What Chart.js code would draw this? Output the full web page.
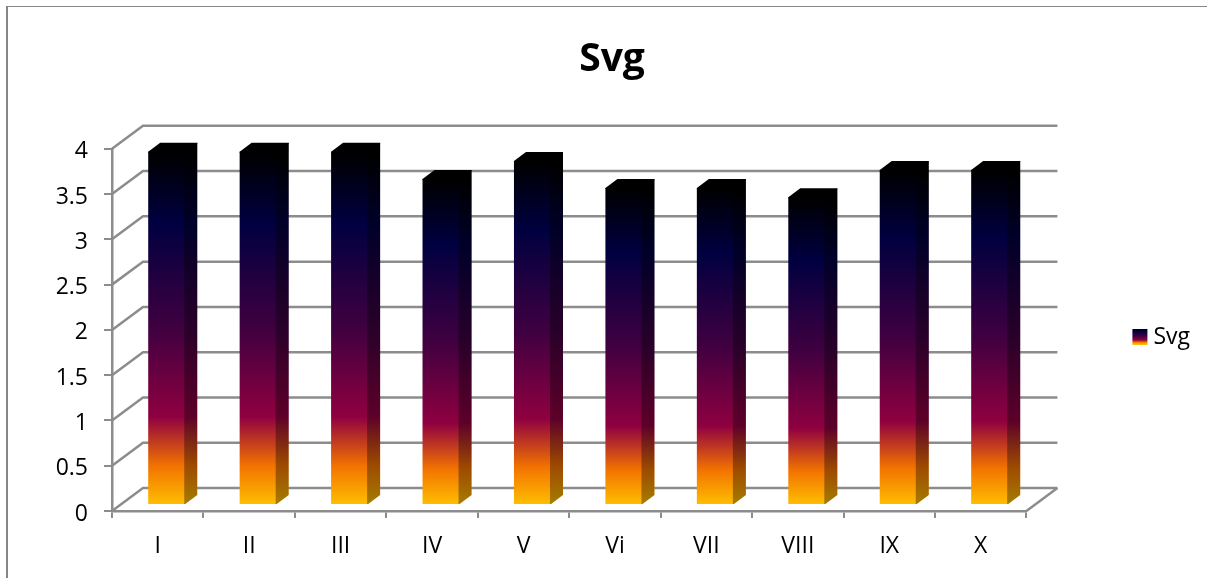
<!DOCTYPE html>
<html>
<head>
<meta charset="utf-8">
<style>
  html, body { margin: 0; background: #fff; overflow: hidden; }
  #frame { position: absolute; left: 6px; top: 6px; width: 1212px; height: 662px; box-sizing: border-box; border: 2px solid #868686; border-right: 0; border-bottom: 0; border-top-width: 1.5px; pointer-events: none; }
  #bars { position: absolute; left: 6px; top: 6px; }
</style>
</head>
<body>
<canvas id="bars" width="1212" height="662"></canvas>
<div id="frame"></div>
<script src="https://cdn.jsdelivr.net/npm/chart.js@4"></script>
<script>
const categories = ["I", "II", "III", "IV", "V", "Vi", "VII", "VIII", "IX", "X"];
const svgValues = [3.9, 3.9, 3.9, 3.6, 3.8, 3.5, 3.5, 3.4, 3.7, 3.7];
const seriesName = "Svg";

const fontName = "'Open Sans'";
const gridColor = "#8c8c8c";

// office "late sunset" preset
const sunsetStops = [
  [0, "#000000"],
  [0.2, "#000040"],
  [0.5, "#400040"],
  [0.75, "#8f0040"],
  [0.89, "#f27300"],
  [1, "#ffbf00"]
];

// fake depth of the 3d box, wall and bars
const wallX = 31, wallY = -23;
const barShiftX = 9, barShiftY = -6;
const depthX = 12, depthY = -9;

const sunset = (ctx, top, bottom) => {
  const g = ctx.createLinearGradient(0, top, 0, bottom);
  sunsetStops.forEach(s => g.addColorStop(s[0], s[1]));
  return g;
};

const fakeDepth = {
  id: "fakeDepth",
  beforeDatasetsDraw(chart) {
    const { ctx, scales: { x, y } } = chart;
    ctx.save();
    ctx.strokeStyle = gridColor;
    ctx.lineWidth = 2.5;
    y.ticks.forEach(t => {
      const py = y.getPixelForValue(t.value);
      ctx.beginPath();
      ctx.moveTo(x.left, py);
      ctx.lineTo(x.left + wallX, py + wallY);
      ctx.lineTo(x.right + wallX, py + wallY);
      ctx.stroke();
    });
    const py0 = y.getPixelForValue(0);
    ctx.beginPath();
    ctx.moveTo(x.right, py0);
    ctx.lineTo(x.right + wallX, py0 + wallY);
    ctx.stroke();
    ctx.restore();
    // front faces get moved back onto the floor
    ctx.save();
    ctx.translate(barShiftX, barShiftY);
  },
  afterDatasetsDraw(chart) {
    const { ctx } = chart;
    ctx.restore();
    ctx.save();
    ctx.translate(barShiftX, barShiftY);
    chart.getDatasetMeta(0).data.forEach(bar => {
      const r = bar.x + bar.width / 2;
      const l = bar.x - bar.width / 2;
      // side, overlaps the front a bit so no white seam shows
      ctx.beginPath();
      ctx.moveTo(r - 1, bar.y);
      ctx.lineTo(r + depthX, bar.y + depthY);
      ctx.lineTo(r + depthX, bar.base + depthY);
      ctx.lineTo(r, bar.base);
      ctx.lineTo(r - 1, bar.base);
      ctx.closePath();
      ctx.fillStyle = sunset(ctx, bar.y, bar.base);
      ctx.fill();
      ctx.fillStyle = "rgba(0,0,0,0.35)";
      ctx.fill();
      // top
      ctx.beginPath();
      ctx.moveTo(l, bar.y + 1);
      ctx.lineTo(l, bar.y);
      ctx.lineTo(l + depthX, bar.y + depthY);
      ctx.lineTo(r + depthX, bar.y + depthY);
      ctx.lineTo(r + depthX, bar.y + depthY + 1);
      ctx.lineTo(r, bar.y + 1);
      ctx.closePath();
      ctx.fillStyle = "#000";
      ctx.fill();
    });
    ctx.restore();
  }
};

const canvas = document.getElementById("bars");

new Chart(canvas, {
  type: "bar",
  data: {
    labels: categories,
    datasets: [{
      label: seriesName,
      data: svgValues,
      categoryPercentage: 1,
      barPercentage: 0.405,
      clip: false,
      backgroundColor: c => {
        const y = c.chart.scales.y;
        return sunset(c.chart.ctx, y.getPixelForValue(c.raw === undefined ? 4 : c.raw), y.getPixelForValue(0));
      }
    }]
  },
  plugins: [fakeDepth],
  options: {
    responsive: false,
    animation: false,
    layout: { padding: { left: 18, right: 18, top: 0, bottom: 0 } },
    plugins: {
      tooltip: { enabled: false },
      title: {
        display: true,
        text: seriesName,
        color: "#000",
        font: { family: fontName, size: 39, weight: "bold" },
        padding: { top: 30, bottom: 66 }
      },
      legend: {
        position: "right",
        labels: {
          // thick stroke makes the 15x16 swatch, keeps the text close to it
          boxWidth: 4,
          boxHeight: 5,
          padding: 111.5,
          color: "#000",
          font: { family: fontName, size: 23 },
          generateLabels: chart => {
            const g = sunset(chart.ctx, 322, 338);
            return [{ text: seriesName, fillStyle: g, strokeStyle: g, lineWidth: 11, datasetIndex: 0 }];
          }
        }
      }
    },
    scales: {
      x: {
        offset: true,
        afterFit: s => { s.height = 157; },
        border: { color: gridColor, width: 2.5 },
        grid: { drawOnChartArea: false, color: gridColor, lineWidth: 2, tickLength: 7, offset: true },
        ticks: { color: "#000", padding: 15, maxRotation: 0, font: { family: fontName, size: 23 } }
      },
      y: {
        min: 0,
        max: 4,
        afterFit: s => { s.width = 88; },
        border: { color: gridColor, width: 2.5 },
        grid: { drawOnChartArea: false, color: gridColor, lineWidth: 2, tickLength: 8 },
        ticks: { stepSize: 0.5, color: "#000", padding: 16, labelOffset: 3, font: { family: fontName, size: 23 }, callback: v => String(v) }
      }
    }
  }
});
</script>
</body>
</html>
